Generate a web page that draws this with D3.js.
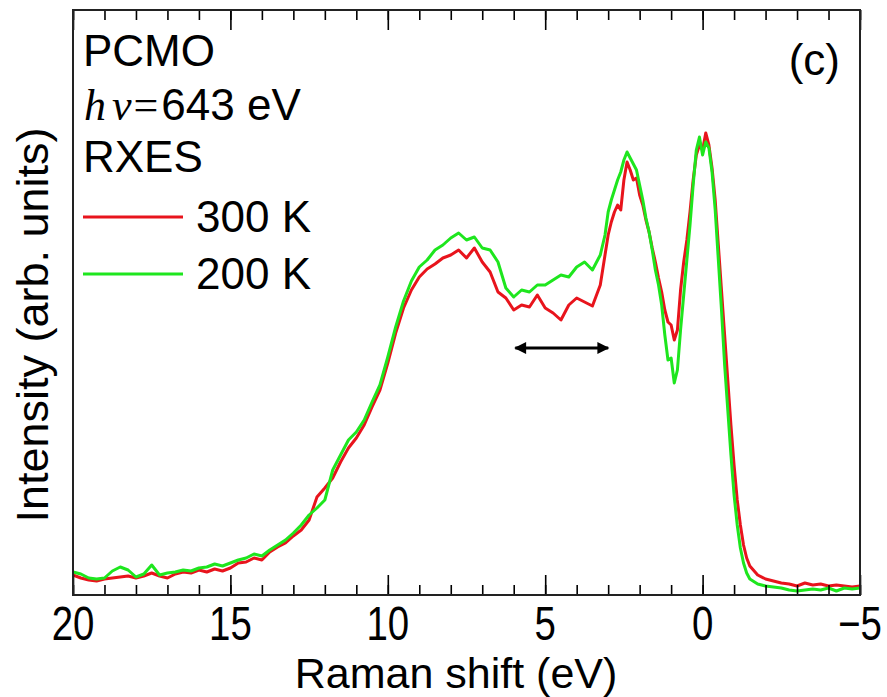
<!DOCTYPE html>
<html>
<head>
<meta charset="utf-8">
<script src="https://cdn.jsdelivr.net/npm/d3@7"></script>
<style>
  body { margin: 0; background: #fff; }
  svg { display: block; font-family: Arial, "Liberation Sans", sans-serif; }
</style>
</head>
<body>
<div id="visContainer"></div>
<script>
'use strict';  //treat silly mistakes as run-time errors

// Raman shift (eV), shared by both spectra
var ENERGY = [
    20, 19.75, 19.5, 19.25, 19, 18.75, 18.5, 18.25, 18, 17.75, 17.5, 17.25, 17,
    16.75, 16.5, 16.25, 16, 15.75, 15.5, 15.25, 15, 14.75, 14.5, 14.25, 14,
    13.75, 13.5, 13.25, 13, 12.75, 12.5, 12.25, 12, 11.75, 11.5, 11.25, 11,
    10.75, 10.5, 10.25, 10, 9.75, 9.5, 9.25, 9, 8.75, 8.5, 8.25, 8, 7.75, 7.5,
    7.25, 7, 6.75, 6.5, 6.25, 6, 5.75, 5.5, 5.25, 5, 4.75, 4.5, 4.25, 4, 3.75,
    3.5, 3.25,
    3.1, 3.0, 2.9, 2.8, 2.7, 2.6, 2.5, 2.4, 2.3, 2.2, 2.1, 2.0, 1.9, 1.8, 1.7,
    1.6, 1.5, 1.4, 1.3, 1.2, 1.1, 1.0, 0.9, 0.8, 0.7, 0.6, 0.5, 0.4, 0.3, 0.2,
    0.1, 0.0, -0.1, -0.2, -0.3, -0.4, -0.5, -0.6, -0.7, -0.8, -0.9, -1.0, -1.1,
    -1.2, -1.3, -1.4, -1.5,
    -1.75, -2, -2.25, -2.5, -2.75, -3, -3.25, -3.5, -3.75, -4, -4.25, -4.5,
    -4.75, -5
];

// 300 K spectrum (arb. units)
var I_300K = [
    20, 17, 15, 14, 16, 17, 18, 19, 17, 19, 22, 19, 17,
    21, 23, 22, 25, 23, 26, 24, 27, 32, 33, 37, 35,
    43, 48, 52, 59, 65, 75, 98, 107, 117, 133, 147, 157,
    170, 188, 205, 232, 262, 287, 305, 318, 326, 331, 337, 340, 345, 337,
    347, 333, 323, 303, 297, 285, 290, 288, 300, 287, 282, 275, 290, 297, 293,
    289, 310,
    340, 360, 373, 383, 390, 385, 415, 433, 425, 415, 417, 400, 390, 375, 363,
    347, 333, 317, 303, 285, 273, 270, 255, 265, 305, 333, 355, 383, 415, 440,
    450, 445, 462, 450, 427, 395, 350, 305, 260, 215, 170, 130, 95,
    70, 50, 37, 29,
    20, 16, 14, 12, 11, 9, 12, 10, 11, 9, 10, 9,
    8, 9
];

// 200 K spectrum (arb. units)
var I_200K = [
    23, 21, 17, 16, 17, 24, 28, 25, 18, 21, 30, 20, 22,
    23, 25, 24, 27, 28, 31, 29, 32, 35, 37, 41, 39,
    45, 50, 55, 62, 70, 80, 87, 95, 125, 140, 155, 163,
    175, 193, 210, 238, 268, 294, 314, 328, 335, 345, 350, 357, 362, 355,
    358, 347, 345, 333, 307, 298, 305, 303, 310, 310, 315, 320, 318, 328, 333,
    325, 340,
    360, 383, 395, 405, 415, 423, 435, 443, 437, 431, 425, 410, 395, 377, 363,
    345, 325, 310, 290, 260, 235, 237, 212, 225, 265, 300, 335, 370, 410, 445,
    458, 440, 453, 447, 423, 385, 335, 285, 230, 185, 140, 100, 70,
    47, 32, 22, 16,
    11, 9, 8, 7, 5, 4, 5, 6, 5, 7, 4, 7,
    6, 7
];

var SERIES = ["300 K", "200 K"];
var COLORS = ["#e8141c", "#1ee61e"];
var X_TICKS = [20, 15, 10, 5, 0, -5];
var X_TICK_LABELS = ["20", "15", "10", "5", "0", "\u22125"];
var INFO_LINES = ["PCMO", "hv", "RXES"];

function draw_chart() {
    var width = 887, height = 697;
    var margin = {top: 10, right: 27, bottom: 102, left: 73};
    var plotW = width - margin.left - margin.right;
    var plotH = height - margin.top - margin.bottom;

    var svg = d3.select("#visContainer")
        .append("svg")
        .attr("width", width)
        .attr("height", height);

    var g = svg.append("g")
        .attr("transform", "translate(" + margin.left + "," + margin.top + ")");

    var x = d3.scaleLinear().domain([20, -5]).range([0, plotW]);
    var y = d3.scaleLinear().domain([0, 585]).range([plotH, 0]);

    // spectra: red first, green on top
    var allSeries = [I_300K, I_200K];
    var line = d3.line()
        .x(function(d, i) { return x(ENERGY[i]); })
        .y(function(d) { return y(d); });

    for (var s = 0; s < allSeries.length; s++) {
        g.append("path")
            .datum(allSeries[s])
            .attr("d", line)
            .attr("fill", "none")
            .attr("stroke", COLORS[s])
            .attr("stroke-width", 3)
            .attr("stroke-linejoin", "round");
    }

    // double arrow between 6 and 3 eV
    var defs = svg.append("defs");
    defs.append("marker")
        .attr("id", "head")
        .attr("viewBox", "0 0 10 10")
        .attr("refX", 9).attr("refY", 5)
        .attr("markerWidth", 5.5).attr("markerHeight", 4)
        .attr("markerUnits", "strokeWidth")
        .attr("orient", "auto-start-reverse")
        .append("path")
        .attr("d", "M0,0 L10,5 L0,10 Z")
        .attr("fill", "#000");
    g.append("line")
        .attr("x1", x(5.95)).attr("x2", x(3.0))
        .attr("y1", y(247)).attr("y2", y(247))
        .attr("stroke", "#000")
        .attr("stroke-width", 3)
        .attr("marker-start", "url(#head)")
        .attr("marker-end", "url(#head)");

    // axes: ticks point inward on top and bottom, none on the sides
    var majorBottom = d3.axisBottom(x).tickValues(X_TICKS).tickSize(-20).tickFormat("");
    var minorBottom = d3.axisBottom(x).tickValues(d3.range(-5, 21, 1)).tickSize(-10).tickFormat("");
    var majorTop = d3.axisTop(x).tickValues(X_TICKS).tickSize(-20).tickFormat("");
    var minorTop = d3.axisTop(x).tickValues(d3.range(-5, 21, 1)).tickSize(-10).tickFormat("");

    var axes = [
        [minorBottom, plotH], [majorBottom, plotH],
        [minorTop, 0], [majorTop, 0]
    ];
    for (var a = 0; a < axes.length; a++) {
        var ax = g.append("g")
            .attr("transform", "translate(0," + axes[a][1] + ")")
            .call(axes[a][0]);
        ax.select(".domain").remove();
        ax.selectAll("line").attr("stroke", "#000").attr("stroke-width", 1.6);
    }

    g.append("rect")
        .attr("width", plotW).attr("height", plotH)
        .attr("fill", "none")
        .attr("stroke", "#222")
        .attr("stroke-width", 2);

    // tick labels, condensed
    for (var t = 0; t < X_TICKS.length; t++) {
        g.append("text")
            .attr("transform", "translate(" + x(X_TICKS[t]) + "," + (plotH + 45) + ") scale(0.8,1)")
            .attr("text-anchor", "middle")
            .style("font-size", "48px")
            .text(X_TICK_LABELS[t]);
    }

    g.append("text")
        .attr("x", 383).attr("y", plotH + 93)
        .attr("text-anchor", "middle")
        .style("font-size", "43px")
        .text("Raman shift (eV)");

    svg.append("text")
        .attr("transform", "translate(48,325) rotate(-90)")
        .attr("text-anchor", "middle")
        .style("font-size", "45px")
        .text("Intensity (arb. units)");

    // annotations
    var info = svg.append("g").style("font-size", "44px");
    info.append("text").attr("x", 83).attr("y", 66).text(INFO_LINES[0]);
    var hv = info.append("text").attr("x", 84).attr("y", 120);
    hv.append("tspan")
        .style("font-family", "'Liberation Serif', 'Times New Roman', serif")
        .style("font-style", "italic")
        .text("h");
    hv.append("tspan")
        .attr("dx", 6)
        .style("font-family", "'Liberation Serif', 'Times New Roman', serif")
        .style("font-style", "italic")
        .text("\u03bd");
    hv.append("tspan")
        .attr("dx", 2)
        .style("font-family", "'Liberation Serif', 'Times New Roman', serif")
        .text("=");
    hv.append("tspan").attr("dx", 3).text("643 eV");
    info.append("text").attr("x", 83).attr("y", 172).text(INFO_LINES[2]);

    svg.append("text")
        .attr("x", 840).attr("y", 75)
        .attr("text-anchor", "end")
        .style("font-size", "44px")
        .text("(c)");

    // legend
    var legendY = [217, 274];
    for (var k = 0; k < SERIES.length; k++) {
        svg.append("line")
            .attr("x1", 83).attr("x2", 183)
            .attr("y1", legendY[k]).attr("y2", legendY[k])
            .attr("stroke", COLORS[k])
            .attr("stroke-width", 3);
        svg.append("text")
            .attr("x", 196).attr("y", legendY[k] + 15)
            .style("font-size", "44px")
            .text(SERIES[k]);
    }
}

draw_chart();
</script>
</body>
</html>
